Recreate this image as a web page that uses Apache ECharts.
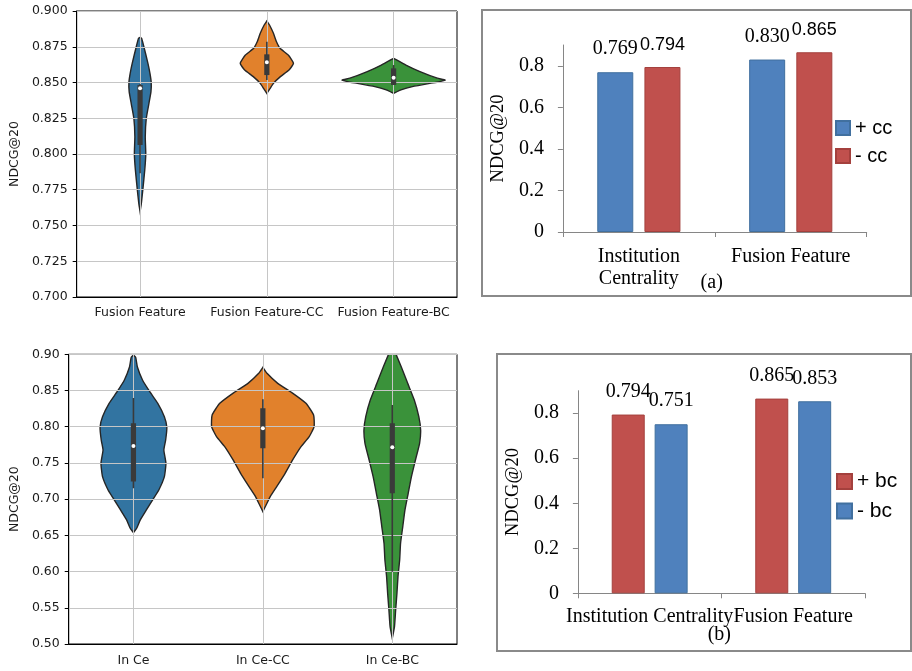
<!DOCTYPE html>
<html>
<head>
<meta charset="utf-8">
<script src="https://cdn.jsdelivr.net/npm/echarts@6/dist/echarts.min.js"></script>
<style>
  html, body { margin: 0; padding: 0; background: #fff; }
  #wrap { position: relative; width: 912px; height: 671px; overflow: hidden; }
  .box { position: absolute; box-sizing: border-box; border: 2px solid #8a8a8a; }
  .chart { position: absolute; }
</style>
</head>
<body>
<div id="wrap">
  <div id="violinTop" class="chart" style="left:0;top:0;width:470px;height:322px;"></div>
  <div class="box" style="left:481px;top:9px;width:431px;height:288px;"></div>
  <div id="barTop" class="chart" style="left:481px;top:9px;width:431px;height:288px;"></div>
  <div id="violinBottom" class="chart" style="left:0;top:330px;width:470px;height:341px;"></div>
  <div class="box" style="left:496px;top:353px;width:416px;height:299px;"></div>
  <div id="barBottom" class="chart" style="left:496px;top:353px;width:416px;height:299px;"></div>
</div>
<script>
  // ---- violin plots (left) ----
  const violinCatsTop = ['Fusion Feature', 'Fusion Feature-CC', 'Fusion Feature-BC']
  const violinCatsBottom = ['In Ce', 'In Ce-CC', 'In Ce-BC']
  const violinColors = ['#3274a1', '#e1812c', '#3a923a']

  // outline: [NDCG@20, half width as share of the category band]
  const fusionShape = [[0.8815, 0], [0.8809, 0.012], [0.875, 0.030], [0.8634, 0.062], [0.8564, 0.078], [0.850, 0.088],
    [0.8436, 0.086], [0.8354, 0.070], [0.825, 0.049], [0.8121, 0.041], [0.800, 0.045], [0.7888, 0.037],
    [0.7753, 0.022], [0.7655, 0.010], [0.7597, 0]]
  const fusionCcShape = [[0.8930, 0], [0.8902, 0.021], [0.8844, 0.052], [0.8785, 0.076], [0.8739, 0.104], [0.8692, 0.169],
    [0.8634, 0.210], [0.8587, 0.175], [0.8541, 0.107], [0.8494, 0.052], [0.8459, 0.026], [0.8424, 0]]
  const fusionBcShape = [[0.8669, 0], [0.8622, 0.097], [0.8576, 0.208], [0.8530, 0.345], [0.8517, 0.407], [0.8505, 0.360],
    [0.8494, 0.286], [0.8471, 0.148], [0.8448, 0.058], [0.8424, 0]]
  const inCeShape = [[0.899, 0], [0.8958, 0.017], [0.8829, 0.030], [0.8645, 0.070], [0.8484, 0.126], [0.8323, 0.188],
    [0.8139, 0.239], [0.7992, 0.258], [0.7817, 0.249], [0.7679, 0.235], [0.7495, 0.251], [0.7311, 0.239],
    [0.7127, 0.196], [0.6998, 0.151], [0.6851, 0.100], [0.6713, 0.053], [0.6598, 0.025], [0.6538, 0]]
  const inCeCcShape = [[0.8820, 0], [0.8737, 0.032], [0.8599, 0.115], [0.8461, 0.232], [0.8323, 0.333], [0.8162, 0.392],
    [0.8001, 0.396], [0.7863, 0.358], [0.7725, 0.295], [0.7541, 0.230], [0.7357, 0.172], [0.7173, 0.107],
    [0.7035, 0.057], [0.6920, 0.025], [0.6828, 0]]
  const inCeBcShape = [[0.912, 0], [0.8829, 0.069], [0.8599, 0.119], [0.8369, 0.170], [0.8139, 0.205], [0.7955, 0.219],
    [0.7771, 0.211], [0.7541, 0.179], [0.7311, 0.148], [0.7081, 0.123], [0.6851, 0.098], [0.6621, 0.081],
    [0.6391, 0.064], [0.6160, 0.057], [0.5930, 0.044], [0.5700, 0.036], [0.5470, 0.026], [0.5240, 0.017], [0.5079, 0]]

  // inner box: [low whisker, q1, median, q3, high whisker]
  const fusionBox = [0.7865, 0.8063, 0.846, 0.8483, 0.849]
  const fusionCcBox = [0.8517, 0.8552, 0.8641, 0.8697, 0.8785]
  const fusionBcBox = [0.8483, 0.8483, 0.8534, 0.8599, 0.8622]
  const inCeBox = [0.7150, 0.7242, 0.7735, 0.8047, 0.8397]
  const inCeCcBox = [0.7288, 0.7702, 0.7978, 0.8254, 0.8378]
  const inCeBcBox = [0.5998, 0.7081, 0.7716, 0.8047, 0.8301]

  // ---- bar charts (right) ----
  const barCatsA = ['Institution\nCentrality', 'Fusion Feature']
  const plusCc = [0.769, 0.830]
  const minusCc = [0.794, 0.865]
  const barCatsB = ['Institution Centrality', 'Fusion Feature']
  const plusBc = [0.794, 0.865]
  const minusBc = [0.751, 0.853]
  const barTicks = [0, 0.2, 0.4, 0.6, 0.8]

  function violinSeries(shapes) {
    return {
      type: 'custom',
      z: 2,
      clip: true,
      data: shapes.map((s, i) => [i, s[0][0]]),
      renderItem: (params, api) => {
        const i = api.value(0)
        const band = api.size([1, 0])[0]
        const right = [], left = []
        shapes[i].forEach(([v, w]) => {
          const c = api.coord([i, v])
          right.push([c[0] + w * band, c[1]])
          left.push([c[0] - w * band, c[1]])
        })
        return {
          type: 'polygon',
          shape: { points: right.concat(left.reverse()), smooth: 0.15 },
          style: { fill: violinColors[i], stroke: '#262626', lineWidth: 1.4 }
        }
      }
    }
  }

  function boxSeries(boxes) {
    return {
      type: 'custom',
      z: 5,
      clip: true,
      data: boxes.map((b, i) => [i, b[2]]),
      renderItem: (params, api) => {
        const i = api.value(0)
        const [lo, q1, med, q3, hi] = boxes[i]
        const pLo = api.coord([i, lo]), pHi = api.coord([i, hi])
        const p1 = api.coord([i, q1]), p3 = api.coord([i, q3]), pm = api.coord([i, med])
        return {
          type: 'group',
          children: [
            { type: 'line', shape: { x1: pLo[0], y1: pLo[1], x2: pHi[0], y2: pHi[1] }, style: { stroke: '#3a3a3a', lineWidth: 1.6 } },
            { type: 'rect', shape: { x: p3[0] - 2.6, y: p3[1], width: 5.2, height: p1[1] - p3[1] }, style: { fill: '#3a3a3a' } },
            { type: 'circle', shape: { cx: pm[0], cy: pm[1], r: 2 }, style: { fill: '#fff' } }
          ]
        }
      }
    }
  }

  function violinOption(grid, cats, shapes, boxes, min, max, step, digits, nameGap, xMargin) {
    return {
      animation: false,
      grid: Object.assign({ show: true, borderColor: '#000', borderWidth: 1, backgroundColor: 'transparent' }, grid),
      xAxis: {
        type: 'category',
        data: cats,
        z: 3,
        axisLine: { lineStyle: { color: '#000' } },
        axisTick: { alignWithLabel: true, length: 4, lineStyle: { color: '#000' } },
        axisLabel: { interval: 0, margin: xMargin, color: '#1a1a1a', fontFamily: 'DejaVu Sans', fontSize: 12.5 },
        splitLine: { show: true, alignWithLabel: true, lineStyle: { color: '#c6c6c6', width: 1 } }
      },
      yAxis: {
        type: 'value',
        min: min,
        max: max,
        interval: step,
        z: 3,
        name: 'NDCG@20',
        nameLocation: 'middle',
        nameGap: nameGap,
        nameTextStyle: { color: '#1a1a1a', fontFamily: 'DejaVu Sans', fontSize: 12.5 },
        axisLine: { show: true, lineStyle: { color: '#000' } },
        axisTick: { show: true, length: 4, lineStyle: { color: '#000' } },
        axisLabel: { margin: 9, color: '#1a1a1a', fontFamily: 'DejaVu Sans', fontSize: 12.5, formatter: v => v.toFixed(digits) },
        splitLine: { show: true, lineStyle: { color: '#c6c6c6', width: 1 } }
      },
      series: [violinSeries(shapes), boxSeries(boxes)]
    }
  }

  function barOption(grid, cats, s1, s2, names, colors, borders, labelFonts, legendPos, legendFont, iconSize, legendGap, xMargin, yMargin, nameGap, caption) {
    const mk = (name, data, ci) => ({
      name: name,
      type: 'bar',
      data: data,
      barWidth: grid.barWidth,
      barGap: grid.barGap,
      itemStyle: { color: colors[ci], borderColor: borders[ci], borderWidth: 1 },
      label: {
        show: true,
        position: 'top',
        distance: 13,
        color: '#000',
        fontFamily: labelFonts[ci][0],
        fontSize: labelFonts[ci][1],
        formatter: p => p.value.toFixed(3)
      }
    })
    return {
      animation: false,
      grid: { left: grid.left, right: grid.right, top: grid.top, bottom: grid.bottom },
      legend: {
        orient: 'vertical',
        left: legendPos[0],
        top: legendPos[1],
        padding: 0,
        itemWidth: iconSize,
        itemHeight: iconSize,
        itemGap: legendGap,
        icon: 'rect',
        textStyle: { color: '#000', fontFamily: 'Liberation Sans', fontSize: legendFont },
        data: names
      },
      xAxis: {
        type: 'category',
        data: cats,
        axisLine: { lineStyle: { color: '#868686' } },
        axisTick: { show: true, length: 5, lineStyle: { color: '#868686' } },
        axisLabel: { interval: 0, margin: xMargin, color: '#000', fontFamily: 'Liberation Serif', fontSize: 20, lineHeight: 21.6 }
      },
      yAxis: {
        type: 'value',
        min: 0,
        max: 0.9,
        name: 'NDCG@20',
        nameLocation: 'middle',
        nameGap: nameGap,
        nameTextStyle: { color: '#000', fontFamily: 'Liberation Serif', fontSize: 18.5 },
        axisLine: { show: true, lineStyle: { color: '#868686' } },
        axisTick: { show: true, length: 5, customValues: barTicks, lineStyle: { color: '#868686' } },
        axisLabel: {
          customValues: barTicks,
          margin: yMargin,
          color: '#000',
          fontFamily: 'Liberation Serif',
          fontSize: 20,
          formatter: v => (v === 0 ? '0' : v.toFixed(1))
        },
        splitLine: { show: false }
      },
      graphic: [{
        type: 'text',
        x: caption[1],
        y: caption[2],
        style: {
          text: caption[0],
          font: '20px "Liberation Serif"',
          fill: '#000',
          textAlign: 'center',
          textVerticalAlign: 'middle',
          align: 'center',
          verticalAlign: 'middle'
        }
      }],
      series: [mk(names[0], s1, 0), mk(names[1], s2, 1)]
    }
  }

  const blue = '#4f81bd', red = '#c0504d'
  const blueEdge = '#41709f', redEdge = '#a4403d'

  const vt = echarts.init(document.getElementById('violinTop'))
  vt.setOption(violinOption({ left: 72, right: 13, top: 11, bottom: 25 }, violinCatsTop,
    [fusionShape, fusionCcShape, fusionBcShape], [fusionBox, fusionCcBox, fusionBcBox], 0.7, 0.9, 0.025, 3, 52, 9))

  const vb = echarts.init(document.getElementById('violinBottom'))
  vb.setOption(violinOption({ left: 59, right: 13, top: 24.3, bottom: 27 }, violinCatsBottom,
    [inCeShape, inCeCcShape, inCeBcShape], [inCeBox, inCeCcBox, inCeBcBox], 0.5, 0.9, 0.05, 2, 41, 10))

  const bt = echarts.init(document.getElementById('barTop'))
  bt.setOption(barOption({ left: 75.7, right: 45.3, top: 36, bottom: 65, barWidth: 36, barGap: '31%' },
    barCatsA, plusCc, minusCc, ['+ cc', '- cc'], [blue, red], [blueEdge, redEdge],
    [['Liberation Serif', 20], ['Liberation Sans', 18]], [354, 109], 20, 14, 8, 14, 19, 46, ['(a)', 230.7, 273.7]))

  const bb = echarts.init(document.getElementById('barBottom'))
  bb.setOption(barOption({ left: 79.7, right: 47, top: 37.7, bottom: 58.7, barWidth: 33, barGap: '30%' },
    barCatsB, plusBc, minusBc, ['+ bc', '- bc'], [red, blue], [redEdge, blueEdge],
    [['Liberation Serif', 20], ['Liberation Serif', 20]], [340, 118], 21, 15, 8.5, 13, 19, 51, ['(b)', 223.3, 282]))
</script>
</body>
</html>
